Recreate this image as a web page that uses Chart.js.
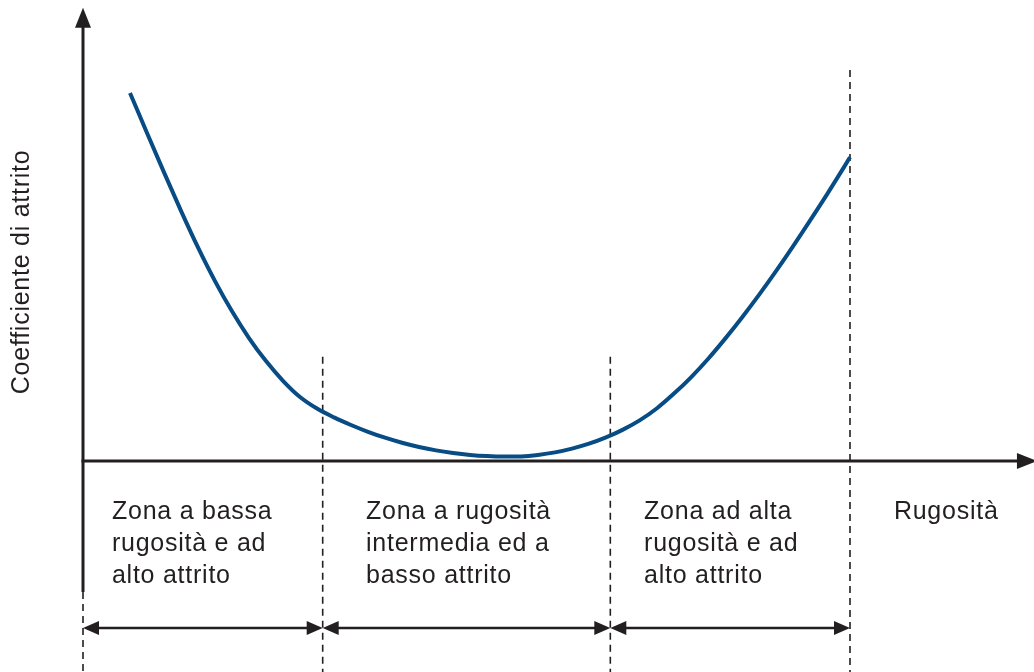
<!DOCTYPE html>
<html><head><meta charset="utf-8">
<script src="https://cdn.jsdelivr.net/npm/chart.js@4/dist/chart.umd.min.js"></script>
<style>html,body{margin:0;padding:0;background:#fff;overflow:hidden}#wrap{width:1034px;height:672px;position:relative}</style>
</head><body><div id="wrap"><canvas id="c"></canvas></div>
<script>
// Curve: roughness (x) vs friction coefficient (y), arbitrary units
const curveX = [0.2451, 0.3338, 0.4224, 0.5111, 0.5997, 0.6884, 0.7771, 0.8657, 0.9544, 1.0430, 1.1317, 1.2203, 1.3090, 1.3977, 1.4863, 1.5750, 1.6636, 1.7523, 1.8409, 1.9296, 2.0183, 2.1069, 2.1956, 2.2842, 2.3729, 2.4615, 2.5502, 2.6389, 2.7275, 2.8162, 2.9048, 2.9935, 3.0821, 3.1708, 3.2595, 3.3481, 3.4368, 3.5254, 3.6141, 3.7027, 3.7914, 3.8801, 3.9687, 4.0000];
const curveY = [7.983, 7.115, 6.260, 5.427, 4.633, 3.902, 3.247, 2.668, 2.167, 1.740, 1.388, 1.137, 0.946, 0.781, 0.633, 0.505, 0.395, 0.304, 0.230, 0.174, 0.132, 0.106, 0.095, 0.100, 0.132, 0.187, 0.269, 0.375, 0.512, 0.681, 0.887, 1.145, 1.462, 1.816, 2.213, 2.649, 3.113, 3.603, 4.119, 4.657, 5.215, 5.785, 6.375, 6.590];
// Zone boundaries on the roughness axis
const zoneBounds = [0, 1.25, 2.75, 4];
const dashTops = [-2.84, 2.26, 2.26, 8.48];
const zoneLabels = [
  ["Zona a bassa", "rugosità e ad", "alto attrito"],
  ["Zona a rugosità", "intermedia ed a", "basso attrito"],
  ["Zona ad alta", "rugosità e ad", "alto attrito"]
];
const zoneLabelX = [0.151, 1.476, 2.926];
const xAxisTitle = "Rugosità";
const xAxisTitleX = 4.229;
const yAxisTitle = "Coefficiente di attrito";
const labelTopY = -1.106;
const arrowRowY = -3.62;
const yAxisBottom = -2.84;
const yAxisTop = 9.83;
const xAxisEnd = 4.975;
const xMin = -0.4329, xMax = 4.9596, yMin = -4.577, yMax = 10.0;

const INK = '#231f20';
const FONT = '25px "Liberation Sans", Arial, sans-serif';

function arrowHead(ctx, x, y, dir, len, half) {
  ctx.beginPath();
  ctx.moveTo(x, y);
  ctx.lineTo(x - dir * len, y - half);
  ctx.lineTo(x - dir * len, y + half);
  ctx.closePath();
  ctx.fill();
}

const diagram = {
  id: 'diagram',
  beforeDatasetsDraw(chart) {
    const ctx = chart.ctx, xs = chart.scales.x, ys = chart.scales.y;
    const X = v => xs.getPixelForValue(v), Y = v => ys.getPixelForValue(v);
    ctx.save();
    // dashed boundaries
    ctx.strokeStyle = INK; ctx.lineWidth = 1.6; ctx.setLineDash([7, 5]);
    zoneBounds.forEach((b, i) => {
      ctx.beginPath();
      ctx.moveTo(X(b), Y(dashTops[i]));
      ctx.lineTo(X(b), Y(yMin));
      ctx.stroke();
    });
    ctx.setLineDash([]);
    // axes
    ctx.lineWidth = 3; ctx.fillStyle = INK;
    ctx.beginPath();
    ctx.moveTo(X(0), Y(yAxisBottom));
    ctx.lineTo(X(0), Y(yAxisTop) + 14);
    ctx.stroke();
    ctx.beginPath();
    ctx.moveTo(X(0), Y(yAxisTop));
    ctx.lineTo(X(0) - 8, Y(yAxisTop) + 20);
    ctx.lineTo(X(0) + 8, Y(yAxisTop) + 20);
    ctx.closePath(); ctx.fill();
    ctx.beginPath();
    ctx.moveTo(X(0) - 1.5, Y(0));
    ctx.lineTo(X(xAxisEnd) - 14, Y(0));
    ctx.stroke();
    arrowHead(ctx, X(xAxisEnd), Y(0), 1, 20, 8);
    ctx.restore();
  },
  afterDatasetsDraw(chart) {
    const ctx = chart.ctx, xs = chart.scales.x, ys = chart.scales.y;
    const X = v => xs.getPixelForValue(v), Y = v => ys.getPixelForValue(v);
    ctx.save();
    // double arrows
    ctx.strokeStyle = INK; ctx.fillStyle = INK; ctx.lineWidth = 2.5;
    const ay = Y(arrowRowY);
    for (let i = 0; i < zoneBounds.length - 1; i++) {
      const a = X(zoneBounds[i]), b = X(zoneBounds[i + 1]);
      ctx.beginPath(); ctx.moveTo(a + 8, ay); ctx.lineTo(b - 8, ay); ctx.stroke();
      arrowHead(ctx, a, ay, -1, 16, 7);
      arrowHead(ctx, b, ay, 1, 16, 7);
    }
    // texts
    ctx.font = FONT; ctx.textBaseline = 'middle'; ctx.textAlign = 'left';
    ctx.letterSpacing = '0.75px';
    const lh = 32;
    zoneLabels.forEach((lines, i) => {
      lines.forEach((t, j) => ctx.fillText(t, X(zoneLabelX[i]), Y(labelTopY) + j * lh));
    });
    ctx.fillText(xAxisTitle, X(xAxisTitleX), Y(labelTopY));
    ctx.translate(22, (Y(yAxisTop) + Y(yAxisBottom)) / 2 - 28);
    ctx.rotate(-Math.PI / 2);
    ctx.textAlign = 'center';
    ctx.fillText(yAxisTitle, 0, 0);
    ctx.restore();
  }
};

new Chart(document.getElementById('c'), {
  type: 'scatter',
  data: {
    datasets: [{
      data: curveX.map((x, i) => ({ x, y: curveY[i] })),
      showLine: true,
      borderColor: '#074c85',
      borderWidth: 4,
      pointRadius: 0,
      cubicInterpolationMode: 'monotone',
      fill: false
    }]
  },
  options: {
    responsive: true,
    maintainAspectRatio: false,
    animation: false,
    layout: { padding: 0 },
    plugins: { legend: { display: false }, tooltip: { enabled: false } },
    scales: {
      x: { type: 'linear', min: xMin, max: xMax, display: false },
      y: { type: 'linear', min: yMin, max: yMax, display: false }
    }
  },
  plugins: [diagram]
});
</script>
</body></html>
